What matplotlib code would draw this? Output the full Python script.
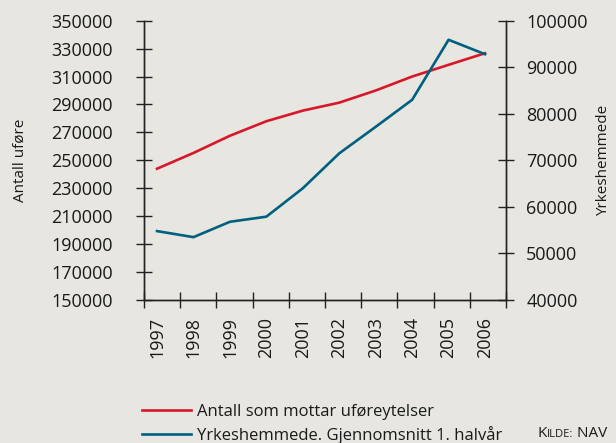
import matplotlib
matplotlib.use("Agg")
import matplotlib.pyplot as plt
import numpy as np
from matplotlib.offsetbox import TextArea, HPacker, AnchoredOffsetbox

plt.rcParams['font.family'] = ['Open Sans', 'DejaVu Sans']

years = ['1997', '1998', '1999', '2000', '2001', '2002', '2003', '2004', '2005', '2006']
ufore = [244000, 255300, 267600, 278000, 285600, 291300, 300000, 310000, 318400, 326700]
yrkes = [54800, 53500, 56800, 57900, 64000, 71500, 77200, 83000, 95900, 92800]
left_ticks = [150000, 170000, 190000, 210000, 230000, 250000, 270000, 290000, 310000, 330000, 350000]
right_ticks = [40000, 50000, 60000, 70000, 80000, 90000, 100000]

BG = '#e7e6e0'
RED = '#d7182a'
BLUE = '#00607f'
INK = '#1a1a1a'
FS = 13

fig = plt.figure(figsize=(6.16, 4.43), dpi=100, facecolor=BG)
ax = fig.add_axes([0.2338, 0.3228, 0.5877, 0.6305])
ax.set_facecolor(BG)
ax2 = ax.twinx()

x = np.arange(len(years))
l1, = ax.plot(x, ufore, color=RED, lw=1.9, label='Antall som mottar uføreytelser')
l2, = ax2.plot(x, yrkes, color=BLUE, lw=1.9, label='Yrkeshemmede. Gjennomsnitt 1. halvår')

xmin, xmax = -0.357, 9.577
ax.set_xlim(xmin, xmax)
ax.set_ylim(150000, 350000)
ax2.set_ylim(40000, 100000)

ax.set_yticks(left_ticks)
ax.set_yticklabels([str(v) for v in left_ticks])
ax2.set_yticks(right_ticks)
ax2.set_yticklabels([str(v) for v in right_ticks])

ax.set_xticks(x)
ax.set_xticklabels(years, rotation=90)
ax.set_xticks(np.linspace(xmin, xmax, 11), minor=True)
ax.tick_params(axis='x', which='major', length=0, pad=12, labelsize=FS, colors=INK)
ax.tick_params(axis='x', which='minor', direction='inout', length=11, width=1.0, color='#222222')
ax.tick_params(axis='y', direction='inout', length=11, width=1.0, color='#222222', pad=17,
               labelsize=FS, labelcolor=INK)
ax2.tick_params(axis='y', direction='inout', length=11, width=1.0, color='#222222', pad=9,
                labelsize=FS, labelcolor=INK)

for a in (ax, ax2):
    a.spines['top'].set_visible(False)
    for s in ('left', 'right', 'bottom'):
        a.spines[s].set_color('#222222')
        a.spines[s].set_linewidth(1.0)

ax.set_ylabel('Antall uføre', fontsize=11, color=INK)
ax.yaxis.set_label_coords(-0.322, 0.5)
ax2.set_ylabel('Yrkeshemmede', fontsize=11, color=INK)
ax2.yaxis.set_label_coords(1.249, 0.5)

fig.legend(handles=[l1, l2], loc='upper left', bbox_to_anchor=(0.22, 0.103),
           frameon=False, fontsize=12, handlelength=2.9, handletextpad=0.38,
           labelspacing=0.35, borderaxespad=0, labelcolor=INK)

tk = TextArea('K', textprops=dict(size=11, color=INK))
ti = TextArea('ILDE:', textprops=dict(size=8, color=INK))
tn = TextArea(' NAV', textprops=dict(size=11, color=INK))
box = HPacker(children=[tk, ti, tn], align='baseline', pad=0, sep=0)
anch = AnchoredOffsetbox(loc='lower right', child=box, frameon=False,
                         bbox_to_anchor=(0.986, 0.004), bbox_transform=fig.transFigure,
                         borderpad=0, pad=0)
fig.add_artist(anch)

fig.savefig('out.png', dpi=100, facecolor=BG)
